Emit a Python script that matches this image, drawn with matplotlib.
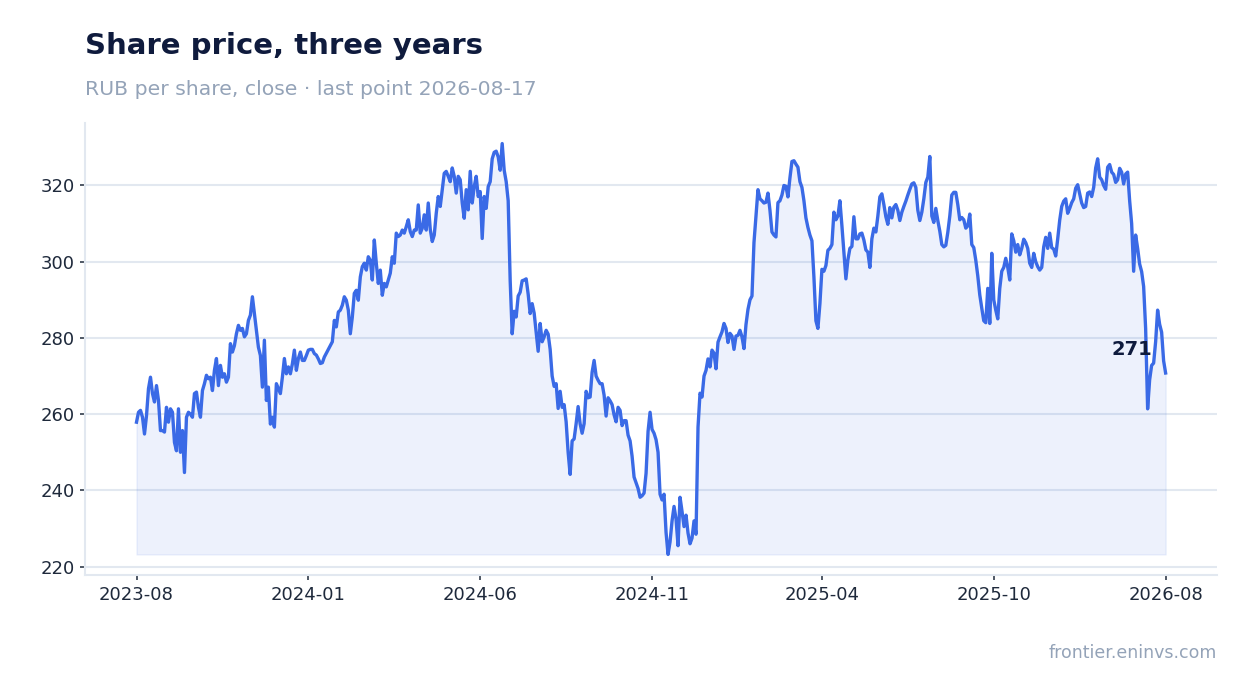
import numpy as np
import matplotlib
matplotlib.use("Agg")
import matplotlib.pyplot as plt

# daily close, RUB per share
close = [
    257.9, 260.5, 261, 259.2, 254.8, 259.6, 266.7, 269.7, 265.4, 263.2,
    267.5, 263.6, 255.7, 255.7, 255.3, 261.8, 257.9, 261.4, 260.5, 252.6,
    250.4, 261.4, 250, 255.7, 244.7, 259.2, 260.5, 260, 259.2, 265.4,
    265.8, 261.8, 259.2, 266.2, 268, 270.2, 269.3, 269.7, 266.2, 271.5,
    274.6, 267.5, 272.8, 269.7, 270.6, 268.4, 269.7, 278.5, 276.3, 278,
    281.1, 283.3, 282, 282.5, 280.3, 281.1, 284.6, 286, 290.8, 286.4,
    282, 277.6, 275.4, 267.1, 279.4, 263.6, 267.1, 257.4, 259.2, 256.6,
    268, 266.7, 265.4, 269.7, 274.6, 270.6, 272.4, 270.6, 273.2, 276.8,
    271.5, 274.6, 276.3, 274.1, 274.1, 275.4, 276.8,
    277, 277, 275.9, 275.5, 274.5, 273.3, 273.5, 275, 276, 277,
    278, 279, 284.6, 282.9, 286.8, 287.3, 288.6, 290.8, 289.9, 287.3,
    281.1, 285.5, 291.7, 292.5, 289.9, 296, 298.7, 299.6, 297.8, 301.3,
    300.4, 295.2, 305.7, 299.6, 294.3, 297.8, 291.2, 294.3, 293.4, 295.2,
    297, 301.3, 299.6, 307.5, 306.6, 307, 308.3, 307.5, 309.2, 311,
    307.9, 306.6, 308.3, 308.3, 314.9, 307.5, 308.8, 312.3, 308.3, 315.4,
    308.5, 305.3, 307, 312.7, 317.1, 314.5, 318.9, 323.2, 323.7, 322.4,
    321, 324.6, 322.4, 318, 322.4, 321.5, 315.4, 311.4, 318.9, 313.6,
    323.7, 315.4, 319.7, 322.4, 317.1, 318.4, 306.1, 317.1, 314, 319.7,
    321, 327, 328.7, 329, 327.5, 324, 331, 324, 321, 316,
    295, 281.1, 287, 285.5, 291, 292, 295, 295.2, 295.5, 291.5,
    286.4, 289, 286.5, 281.5, 276.5, 283.8, 279, 280.3, 282, 281,
    277, 270, 267.3, 268, 261.5, 266, 261.8, 262.5, 258, 250,
    244.2, 253, 253.5, 257.5, 262, 257.5, 255, 257.5, 266, 264.3,
    264.5, 271, 274.1, 270, 268.9, 268, 268, 265, 259.5, 264.3,
    263.5, 262.5, 259.8, 258, 261.8, 261, 257, 258.3, 258.3, 254.5,
    253, 249, 243.5, 242, 240.5, 238.2, 238.6, 239.3, 244.5, 255.5,
    260.5, 256, 255, 253.3, 250,
    239, 237.5, 239, 229, 223.2, 226.5, 232, 235.8, 232.5, 225.5,
    238.2, 234.5, 230.5, 233.5, 228.8, 226, 227.5, 232, 228.5, 256.6,
    265.5, 264.5, 270, 271.5, 274.5, 272.4, 276.8, 276, 271.9, 278.9,
    280.3, 281.6, 283.8, 282.5, 278.8, 281.2, 280.5, 277, 280.5, 280.7,
    282, 280.3, 277.2, 283.5, 287.5, 290, 291, 305, 311.8, 318.9,
    316.5, 316, 315.4, 315.6, 318, 313.5, 307.8, 307, 306.5, 315.5,
    316, 317.5, 320, 319.8, 317, 322, 326.3, 326.5, 325.6, 324.8,
    321, 319.5, 316, 311.5, 309, 307, 305.5, 296, 284.5, 282.5,
    289, 298, 297.5, 299, 303, 303.5, 304.5, 313, 311, 312,
    316, 309.5, 302.5, 295.5, 300.5, 303.5, 304, 311.8, 306, 306,
    307.3, 307.5, 305.7, 303.1, 302.5, 298.5, 306, 308.8, 307.8, 312,
    317, 317.8, 315, 311.8, 309.8, 314.2, 311.5, 314.3, 315, 313.5,
    310.8, 313, 314.5, 315.9, 317.5, 319, 320.4, 320.7, 319.5, 313.5,
    310.8, 313, 316.5, 320.8, 322.2, 327.6, 312, 310.3, 314, 310.8,
    308, 304.5, 303.9, 304.3, 307.7, 312, 317.5, 318.2, 318.2, 315,
    311, 311.6, 311, 308.8, 309.4, 312.5, 304.5, 303.7, 300.4, 296.3,
    291.3, 287.8, 284.5, 284, 293,
    283.8, 302.2, 290, 287.3, 285, 293, 297.5, 298.5, 300.9, 298.5,
    295.2, 307.3, 305.5, 302.5, 304.5, 301.8, 303.5, 305.9, 305, 303.5,
    299.6, 298.5, 302.2, 300, 298.7, 297.8, 298.5, 303.9, 306.4, 303.5,
    307.5, 303.7, 303.3, 301.5, 306, 310.9, 314.5, 315.9, 316.5, 312.7,
    314, 315.5, 316.5, 319.3, 320.2, 317.8, 315.4, 314.2, 314.5, 318,
    318.3, 317.1, 319.5, 324.6, 327, 322.2, 321.5, 320, 319, 324.8,
    325.5, 323.5, 322.9, 320.8, 321.5, 324.5, 323.5, 320.4, 323, 323.5,
    316, 310, 297.5, 307, 303.5, 299.4, 297.4, 293.5, 282.5, 261.4,
    269, 272.8, 273.4, 279, 287.3, 283.6, 281.5, 274, 270.8,
]
tick_labels = ["2023-08", "2024-01", "2024-06", "2024-11", "2025-04", "2025-10", "2026-08"]
y_ticks = [220, 240, 260, 280, 300, 320]

title = "Share price, three years"
subtitle = "RUB per share, close \u00b7 last point 2026-08-17"
source = "frontier.eninvs.com"

line_color = "#3a6ae6"
ink = "#0f1b3d"
muted = "#94a3b8"
rule = "#e2e8f0"
tick_ink = "#1e293b"

fig = plt.figure(figsize=(12.47, 6.93), dpi=100)
ax = fig.add_axes([0.0682, 0.1703, 0.9078, 0.6522])

x = np.arange(len(close))
y = np.array(close)

# area under the line down to the lowest close
ax.fill_between(x, y, y.min(), color=line_color, alpha=0.09, linewidth=1)
ax.plot(x, y, color=line_color, linewidth=2.4, solid_joinstyle="round")

ax.set_yticks(y_ticks)
ticks = np.round(np.linspace(0, len(close) - 1, len(tick_labels)))
ax.set_xticks(ticks)
ax.set_xticklabels(tick_labels)

ax.yaxis.grid(True, color=rule, linewidth=1.5)
ax.set_axisbelow(True)
for side in ["top", "right"]:
    ax.spines[side].set_visible(False)
for side in ["left", "bottom"]:
    ax.spines[side].set_color(rule)
    ax.spines[side].set_linewidth(1.5)
ax.tick_params(axis="both", labelsize=13, colors=tick_ink, length=3.6, width=1.1, pad=4)

# last value label
ax.annotate(f"{close[-1]:.0f}", xy=(x[-1], close[-1]), xytext=(-13, 14),
            textcoords="offset pixels", ha="right", va="bottom",
            fontsize=14, fontweight="bold", color=ink)

fig.text(85 / 1247, 1 - 53.5 / 693, title, fontsize=21, fontweight="bold",
         color=ink, va="baseline")
fig.text(85 / 1247, 1 - 95 / 693, subtitle, fontsize=14.7, color=muted, va="baseline")
fig.text(1217 / 1247, 1 - 658 / 693, source, fontsize=12.5, color=muted,
         ha="right", va="baseline")

fig.savefig("out.png", dpi=100)
